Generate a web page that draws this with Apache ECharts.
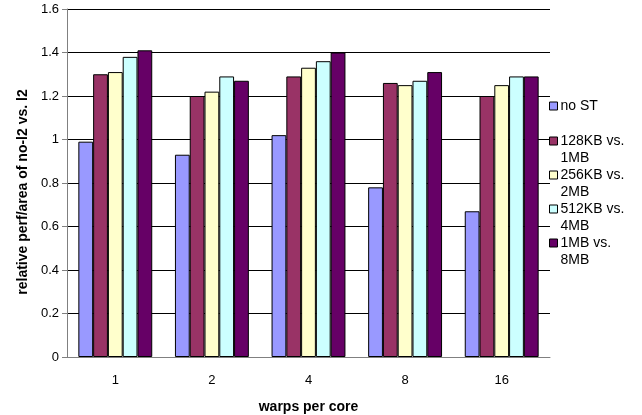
<!DOCTYPE html>
<html>
<head>
<meta charset="utf-8">
<script src="https://cdn.jsdelivr.net/npm/echarts@6/dist/echarts.min.js"></script>
<style>html,body{margin:0;padding:0;background:#fff;}#c{width:642px;height:415px;}</style>
</head>
<body>
<div id="c"></div>
<script>
const categories = ['1', '2', '4', '8', '16'];
const seriesNames = ['no ST', '128KB vs.\n1MB', '256KB vs.\n2MB', '512KB vs.\n4MB', '1MB vs.\n8MB'];
const noST = [0.99, 0.93, 1.02, 0.78, 0.67];
const kb128 = [1.30, 1.20, 1.29, 1.26, 1.20];
const kb256 = [1.31, 1.22, 1.33, 1.25, 1.25];
const kb512 = [1.38, 1.29, 1.36, 1.27, 1.29];
const mb1 = [1.41, 1.27, 1.40, 1.31, 1.29];
const yTicks = ['0', '0.2', '0.4', '0.6', '0.8', '1', '1.2', '1.4', '1.6'];

const seriesData = [noST, kb128, kb256, kb512, mb1];
const colors = ['#9999FF', '#993366', '#FFFFCC', '#CCFFFF', '#660066'];
const legendTops = [92.5, 127.5, 161.5, 195.5, 229.5];
// square marker at the top of a taller icon box, so it sits beside the first text line
const topSquareIcon = 'path://M0,0L8,0L8,8L0,8Z M0,25';

const font = 'Liberation Sans, Arial, sans-serif';
const chart = echarts.init(document.getElementById('c'));
chart.setOption({
  animation: false,
  grid: { left: 67, right: 92, top: 9, bottom: 58, containLabel: false, outerBoundsMode: 'none' },
  legend: seriesNames.map((n, i) => ({
    data: [n],
    orient: 'vertical',
    left: 544,
    top: legendTops[i],
    itemWidth: 8,
    itemHeight: i === 0 ? 8 : 25,
    itemGap: 0,
    icon: i === 0 ? 'rect' : topSquareIcon,
    selectedMode: false,
    itemStyle: { borderColor: '#000', borderWidth: 1 },
    textStyle: {
      fontFamily: font, fontSize: 14, color: '#000', lineHeight: 17,
      padding: [0, 0, 0, -2]
    }
  })),
  xAxis: {
    type: 'category',
    data: categories,
    name: 'warps per core',
    nameLocation: 'middle',
    nameGap: 43,
    nameTextStyle: { fontFamily: font, fontSize: 14, fontWeight: 'bold', color: '#000' },
    axisLine: { lineStyle: { color: '#808080', width: 1 } },
    axisTick: { length: 5, lineStyle: { color: '#808080' } },
    axisLabel: { fontFamily: font, fontSize: 13, color: '#000', margin: 17 }
  },
  yAxis: {
    type: 'value',
    min: 0, max: 1.6, interval: 0.2,
    name: 'relative perf/area of no-l2 vs. l2',
    nameLocation: 'middle',
    nameGap: 32,
    nameTextStyle: { fontFamily: font, fontSize: 14, fontWeight: 'bold', color: '#000', padding: [0, 18, 0, 0] },
    axisLine: { show: true, lineStyle: { color: '#808080', width: 1 } },
    axisTick: { show: true, length: 5, lineStyle: { color: '#808080' } },
    axisLabel: {
      fontFamily: font, fontSize: 13, color: '#000', margin: 8,
      formatter: (v) => yTicks[Math.round(v / 0.2)]
    },
    splitLine: { lineStyle: { color: '#000', width: 1 } }
  },
  series: seriesNames.map((n, i) => ({
    name: n,
    type: 'bar',
    data: seriesData[i],
    barGap: '0%',
    barCategoryGap: '23.5%',
    itemStyle: { color: colors[i], borderColor: '#000', borderWidth: 1 }
  }))
});
</script>
</body>
</html>
